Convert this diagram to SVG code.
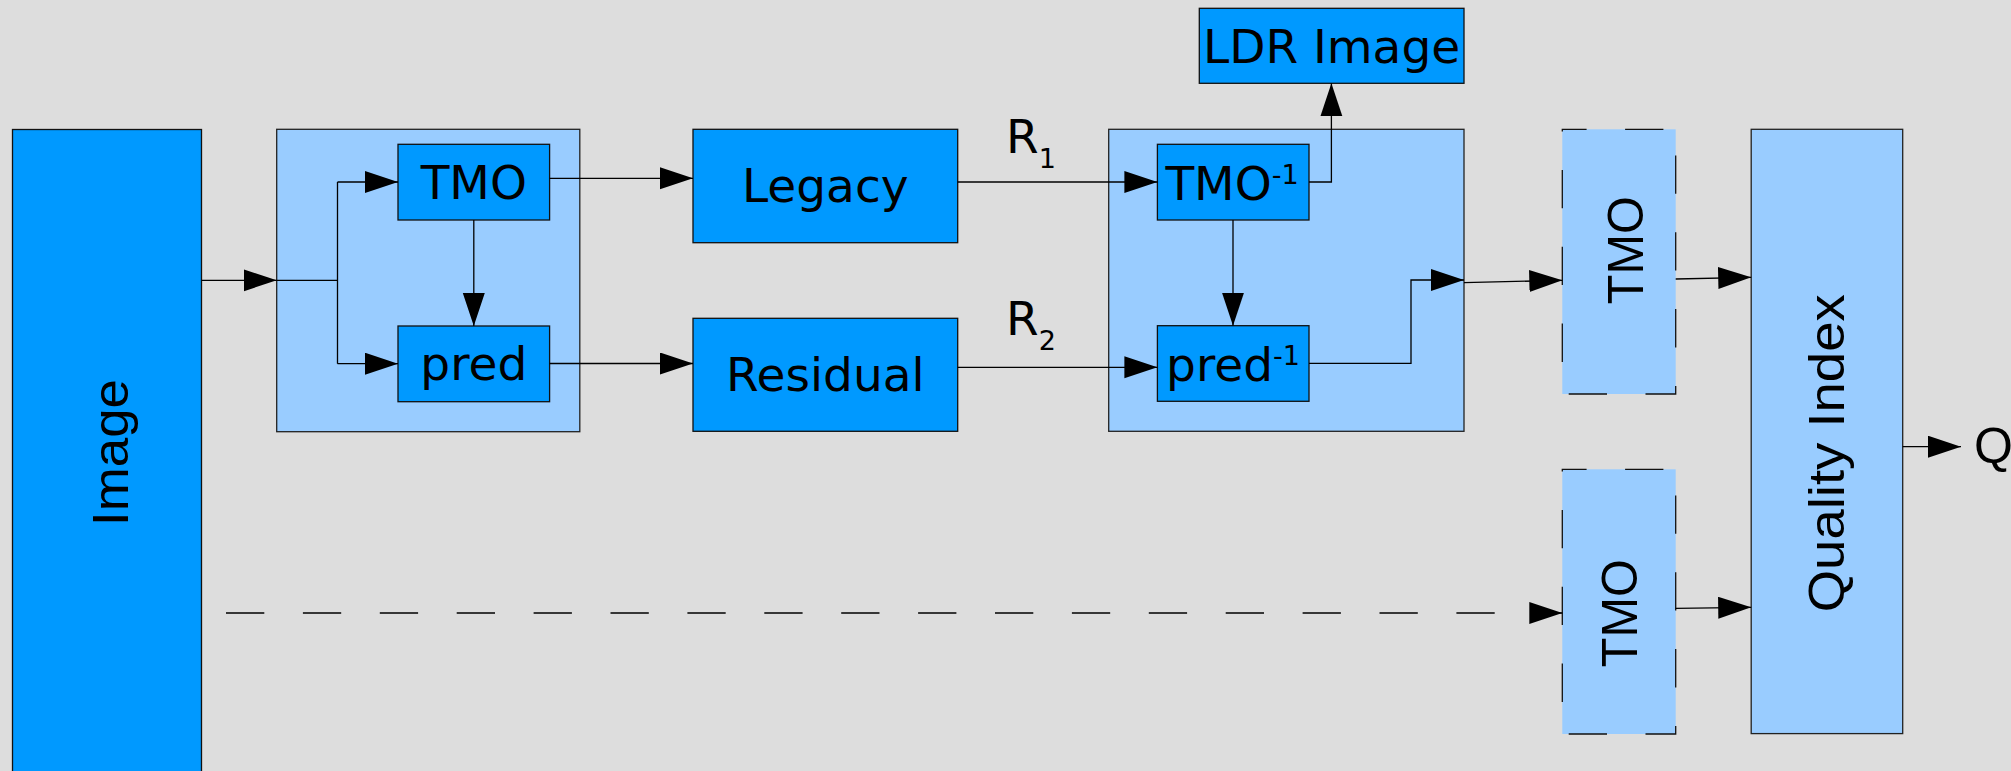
<svg xmlns="http://www.w3.org/2000/svg" width="2011" height="771" viewBox="0 0 2011 771">
<defs>
<style>
.bg{fill:#dddddd}
.dark{fill:#0099ff;stroke:#111;stroke-width:1.3}
.light{fill:#99ccff;stroke:#222;stroke-width:1.3}
.dash{fill:#99ccff;stroke:#111;stroke-width:1.3;stroke-dasharray:38.3 38.5;stroke-dashoffset:14}
.t{font-family:"DejaVu Sans",sans-serif;font-size:47px;fill:#000}
.r{font-family:"Liberation Sans",Arial,sans-serif;font-size:50px;fill:#000}
.c{fill:none;stroke:#000;stroke-width:1.3}
.cd{fill:none;stroke:#000;stroke-width:1.3;stroke-dasharray:38.3 38.6}
</style>
<marker id="ah" markerUnits="userSpaceOnUse" markerWidth="34" markerHeight="23" refX="33" refY="11" orient="auto">
<path d="M0,0 L33,11 L0,22 z" fill="#000"/>
</marker>
</defs>
<rect class="bg" x="0" y="0" width="2011" height="771"/>

<g id="image">
<rect class="dark" x="12.5" y="129.5" width="189" height="700"/>
<text class="r" transform="translate(127.7,452.5) rotate(-90)" text-anchor="middle" textLength="147" lengthAdjust="spacingAndGlyphs">Image</text>
</g>

<g id="encoder">
<rect class="light" x="276.7" y="129.3" width="303.1" height="302.4"/>
</g>
<g id="enc-tmo">
<rect class="dark" x="398" y="144.3" width="151.6" height="75.7"/>
<text class="t" x="473.8" y="199" text-anchor="middle">TMO</text>
</g>
<g id="enc-pred">
<rect class="dark" x="398" y="326" width="151.6" height="75.7"/>
<text class="t" x="473.8" y="380" text-anchor="middle">pred</text>
</g>

<g id="legacy">
<rect class="dark" x="693" y="129.3" width="264.7" height="113.4"/>
<text class="t" x="825.3" y="202.3" text-anchor="middle">Legacy</text>
</g>
<g id="residual">
<rect class="dark" x="693" y="318.3" width="264.7" height="113"/>
<text class="t" x="825.3" y="391" text-anchor="middle">Residual</text>
</g>

<g id="label-r1">
<text class="t" x="1006" y="152.7">R<tspan font-size="27" dy="15.6">1</tspan></text>
</g>
<g id="label-r2">
<text class="t" x="1006" y="335">R<tspan font-size="27" dy="15">2</tspan></text>
</g>

<g id="ldr">
<rect class="dark" x="1199.3" y="8.3" width="264.7" height="75"/>
<text class="t" x="1331.6" y="62.7" text-anchor="middle">LDR Image</text>
</g>

<g id="decoder">
<rect class="light" x="1108.7" y="129.3" width="355.3" height="302"/>
</g>
<g id="dec-tmo">
<rect class="dark" x="1157.4" y="144.3" width="151.6" height="75.7"/>
<text class="t" x="1232" y="200" text-anchor="middle">TMO<tspan font-size="27" dy="-16">-1</tspan></text>
</g>
<g id="dec-pred">
<rect class="dark" x="1157.4" y="325.7" width="151.6" height="75.6"/>
<text class="t" x="1233" y="380.7" text-anchor="middle">pred<tspan font-size="27" dy="-16">-1</tspan></text>
</g>

<g id="tmo-upper">
<rect class="dash" x="1562.3" y="129.3" width="113.4" height="264.7"/>
<text class="r" transform="translate(1643.3,250.3) rotate(-90)" text-anchor="middle" textLength="108" lengthAdjust="spacingAndGlyphs">TMO</text>
</g>
<g id="tmo-lower">
<rect class="dash" x="1562.3" y="469.3" width="113.4" height="264.7"/>
<text class="r" transform="translate(1636.7,613.3) rotate(-90)" text-anchor="middle" textLength="108" lengthAdjust="spacingAndGlyphs">TMO</text>
</g>

<g id="quality">
<rect class="light" x="1751.2" y="129.3" width="151.5" height="604.3"/>
<text class="r" transform="translate(1844,453.3) rotate(-90)" text-anchor="middle" textLength="318" lengthAdjust="spacingAndGlyphs">Quality Index</text>
</g>

<g id="q-out">
<text class="r" x="1974" y="462.7">Q</text>
</g>

<g id="connectors">
<path class="c" d="M201.7,280.3 H276.7" marker-end="url(#ah)"/>
<path class="c" d="M276.7,280.3 H337.5 M337.5,182 V363.7"/>
<path class="c" d="M337.5,182 H398" marker-end="url(#ah)"/>
<path class="c" d="M337.5,363.7 H398" marker-end="url(#ah)"/>
<path class="c" d="M473.8,220 V326" marker-end="url(#ah)"/>
<path class="c" d="M549.6,178.3 H693" marker-end="url(#ah)"/>
<path class="c" d="M549.6,363.5 H693" marker-end="url(#ah)"/>
<path class="c" d="M957.7,182 H1157.4" marker-end="url(#ah)"/>
<path class="c" d="M957.7,367.3 H1157.4" marker-end="url(#ah)"/>
<path class="c" d="M1309,182 H1331.4 V83.3" marker-end="url(#ah)"/>
<path class="c" d="M1233,220 V325.7" marker-end="url(#ah)"/>
<path class="c" d="M1309,363.3 H1411 V280 H1464" marker-end="url(#ah)"/>
<path class="c" d="M1464,282.7 L1562.3,280.3" marker-end="url(#ah)"/>
<path class="c" d="M1675.7,279 L1751.2,277.3" marker-end="url(#ah)"/>
<path class="cd" d="M226,613 H1562.3" marker-end="url(#ah)"/>
<path class="c" d="M1675.7,608.3 L1751.2,607.3" marker-end="url(#ah)"/>
<path class="c" d="M1902.7,446.7 H1961" marker-end="url(#ah)"/>
</g>
</svg>
